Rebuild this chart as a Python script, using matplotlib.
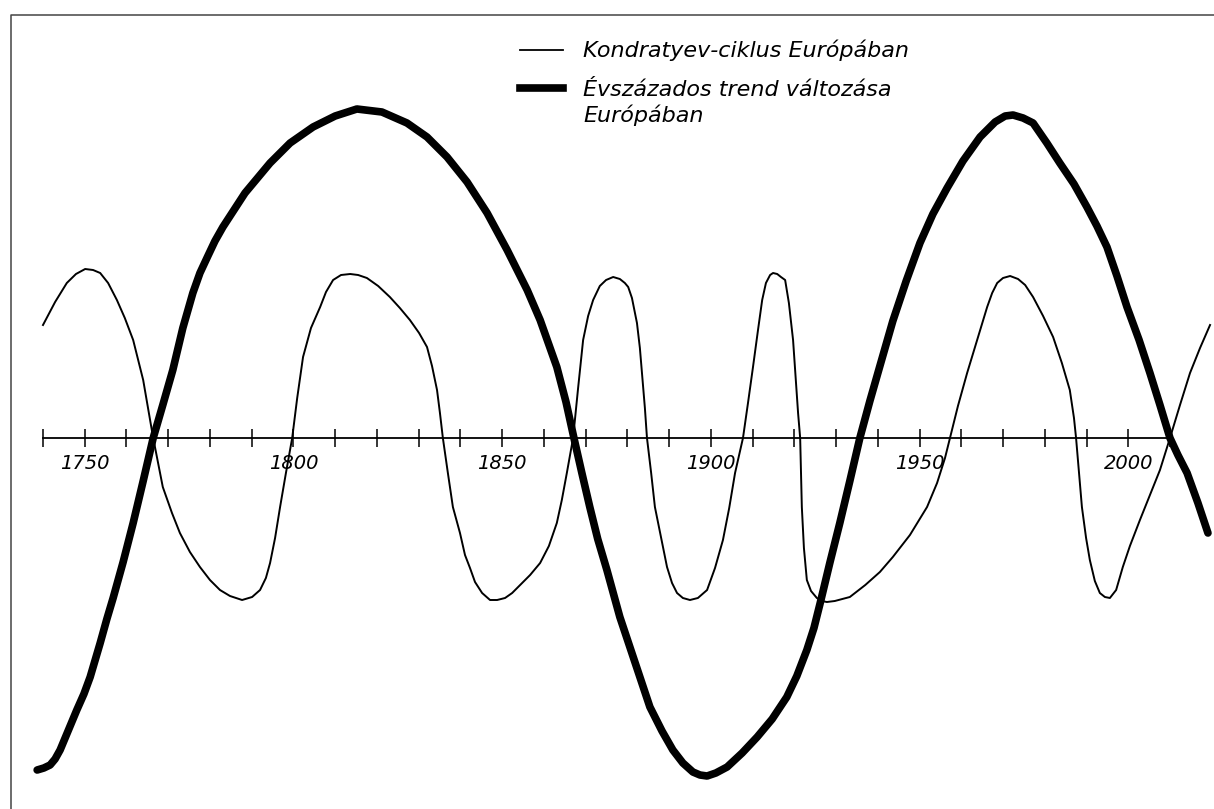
import matplotlib
matplotlib.use('Agg')
import matplotlib.pyplot as plt

# Kondratyev cycle in Europe (thin line), relative level vs year
kondratyev_years = [1740.0, 1742.9, 1745.7, 1747.9, 1750.1, 1752.0, 1753.7, 1755.6,
                    1757.7, 1759.6, 1761.6, 1764.0, 1766.4,
                    1768.7, 1770.9, 1772.8, 1775.2, 1777.6, 1780.0, 1782.4, 1784.8,
                    1787.7, 1790.1, 1792.0, 1793.4, 1794.4, 1795.6, 1796.8, 1798.2,
                    1799.7, 1800.9, 1802.3, 1804.2, 1806.4, 1807.8, 1809.5, 1811.4,
                    1813.6, 1815.5, 1817.6, 1820.3, 1823.1, 1825.5, 1827.9, 1830.1,
                    1832.0, 1833.2, 1834.4, 1835.1, 1835.8,
                    1837.0, 1838.2, 1839.9, 1841.1, 1842.3, 1843.5, 1845.2, 1847.1,
                    1848.8, 1850.7, 1852.4, 1854.3, 1856.7, 1859.1, 1861.2, 1863.1,
                    1864.3, 1865.5, 1867.0,
                    1868.2, 1869.4, 1870.6, 1871.8, 1873.4, 1874.9, 1876.6, 1878.2,
                    1879.4, 1880.2, 1881.1, 1882.3, 1883.0, 1883.5, 1884.2, 1884.7,
                    1885.7, 1886.6, 1888.1, 1889.5, 1890.7, 1891.9, 1893.3, 1895.0,
                    1896.9, 1899.1, 1901.0, 1902.9, 1904.4, 1905.8, 1907.7,
                    1908.9, 1910.1, 1911.3, 1912.3, 1913.2, 1914.2, 1914.9, 1915.9,
                    1916.8, 1917.8, 1918.7, 1919.7, 1920.4, 1920.9, 1921.4,
                    1921.6, 1921.8, 1922.3, 1923.0, 1924.0, 1925.4, 1926.6, 1927.8,
                    1929.7, 1933.3, 1937.0, 1940.5, 1943.6, 1947.7, 1951.8, 1954.2,
                    1956.1, 1957.3,
                    1959.2, 1961.4, 1963.8, 1966.2, 1967.4, 1968.6, 1970.0, 1971.7,
                    1973.6, 1975.3, 1977.2, 1979.6, 1982.0, 1984.1, 1986.0, 1987.0,
                    1987.5,
                    1988.2, 1988.9, 1989.9, 1990.8, 1992.0, 1993.2, 1994.4, 1995.6,
                    1997.1, 1998.7, 2000.4, 2002.8, 2005.2, 2007.6, 2010.0,
                    2012.4, 2014.8, 2017.2, 2019.6]
kondratyev_level = [113, 136, 155, 164, 169, 168, 165, 155,
                    138, 120, 98, 58, 0,
                    -49, -75, -95, -114, -129, -142, -152, -158,
                    -162, -159, -152, -140, -125, -100, -69, -35,
                    0, 40, 81, 110, 131, 146, 158, 163,
                    164, 163, 160, 152, 141, 130, 118, 105,
                    91, 72, 48, 25, 0,
                    -35, -69, -95, -117, -130, -144, -155, -162,
                    -162, -160, -155, -147, -137, -125, -108, -85,
                    -62, -35, 0,
                    50, 98, 122, 138, 152, 158, 161, 159,
                    155, 151, 140, 115, 90, 65, 30, 0,
                    -35, -69, -100, -129, -145, -155, -160, -162,
                    -160, -152, -130, -102, -70, -35, 0,
                    35, 71, 108, 138, 155, 163, 165, 164,
                    161, 158, 135, 98, 55, 25, 0,
                    -35, -69, -110, -142, -153, -160, -163, -164,
                    -163, -159, -147, -134, -119, -97, -69, -45,
                    -20, 0,
                    32, 65, 98, 131, 145, 155, 160, 162,
                    159, 153, 141, 122, 101, 75, 48, 20,
                    0,
                    -35, -69, -100, -122, -143, -155, -159, -160,
                    -152, -129, -108, -82, -57, -32, 0,
                    33, 65, 90, 113]

# secular trend in Europe (thick line)
trend_years = [1738.6, 1740.2, 1741.7, 1742.9, 1744.1, 1746.0, 1748.1, 1749.8,
               1751.3, 1752.5, 1753.7, 1755.3, 1756.8, 1759.2, 1761.6, 1764.0,
               1766.4, 1768.7, 1771.1, 1773.5, 1775.9, 1777.6, 1779.5, 1781.2,
               1783.1, 1788.4,
               1794.4, 1799.2, 1804.7, 1810.0, 1815.2, 1821.2, 1827.2, 1832.0,
               1836.8, 1841.6, 1846.4, 1851.2, 1856.0, 1859.1, 1863.1, 1865.3,
               1867.2, 1869.1, 1871.0, 1872.9, 1875.1, 1878.2, 1881.4, 1885.4,
               1888.3, 1890.9, 1893.3, 1895.7, 1897.4, 1899.1, 1901.2, 1903.9,
               1907.5, 1911.1, 1914.7, 1918.2, 1920.6, 1923.0, 1924.7, 1926.2,
               1928.5, 1930.9, 1933.3, 1935.7, 1938.1, 1940.5, 1943.6, 1946.8,
               1950.1, 1953.2, 1956.6, 1960.4, 1964.5, 1968.1, 1970.5, 1972.4,
               1974.8, 1977.2, 1980.5, 1983.6, 1987.0, 1990.1, 1992.5, 1994.9,
               1997.3, 1999.7, 2002.6, 2005.2, 2007.6, 2010.0, 2011.9, 2014.1,
               2016.7, 2019.1]
trend_level = [-332, -330, -327, -321, -312, -293, -272, -256,
               -239, -222, -205, -181, -160, -124, -85, -43,
               0, 33, 68, 110, 145, 165, 182, 197,
               211, 245,
               275, 295, 311, 322, 329, 326, 315, 301,
               281, 256, 225, 188, 148, 118, 71, 36,
               0, -35, -69, -101, -132, -179, -219, -269,
               -293, -312, -325, -334, -337, -338, -335, -329,
               -315, -299, -281, -259, -238, -212, -190, -165,
               -125, -85, -43, 0, 37, 72, 117, 157,
               195, 224, 250, 277, 301, 316, 322, 323,
               320, 315, 295, 275, 254, 231, 212, 191,
               162, 131, 98, 65, 33, 0, -17, -35,
               -65, -95]

tick_years = list(range(1740, 2011, 10))
label_years = [1750, 1800, 1850, 1900, 1950, 2000]

W, H = 1214, 809


def main():
    fig = plt.figure(figsize=(W / 100, H / 100), dpi=100)
    ax = fig.add_axes([0, 0, 1, 1])
    ax.set_xlim(1740 - 43 / 4.174, 1740 + (W - 43) / 4.174)
    ax.set_ylim(-371, 438)
    ax.axis('off')

    # frame of the scanned figure
    ax.plot([11 / W, 11 / W, 1], [0, 1 - 15 / H, 1 - 15 / H],
            transform=ax.transAxes, color='#444444', lw=1.1)

    # time axis with ticks
    ax.plot([tick_years[0], tick_years[-1]], [0, 0], color='black', lw=1.3)
    ax.vlines(tick_years, -9, 9, color='black', lw=1.1)
    for yr in label_years:
        ax.text(yr, -25, str(yr), ha='center', va='center', fontsize=14,
                style='italic', family='DejaVu Sans')

    ax.plot(kondratyev_years, kondratyev_level, color='black', lw=1.4,
            solid_joinstyle='round')
    ax.plot(trend_years, trend_level, color='black', lw=5.5,
            solid_capstyle='round', solid_joinstyle='round')

    # legend drawn by hand
    ax.plot([520 / W, 563 / W], [1 - 50 / H] * 2, transform=ax.transAxes,
            color='black', lw=1.3)
    ax.plot([520 / W, 563 / W], [1 - 88 / H] * 2, transform=ax.transAxes,
            color='black', lw=5.5)
    ax.text(583 / W, 1 - 50 / H, 'Kondratyev-ciklus Európában',
            transform=ax.transAxes, ha='left', va='center', fontsize=16,
            style='italic', family='DejaVu Sans')
    ax.text(583 / W, 1 - 103 / H, 'Évszázados trend változása\nEurópában',
            transform=ax.transAxes, ha='left', va='center', fontsize=16,
            style='italic', family='DejaVu Sans', linespacing=1.3)

    fig.savefig('out.png', dpi=100)
    plt.close('all')


if __name__ == '__main__':
    main()
